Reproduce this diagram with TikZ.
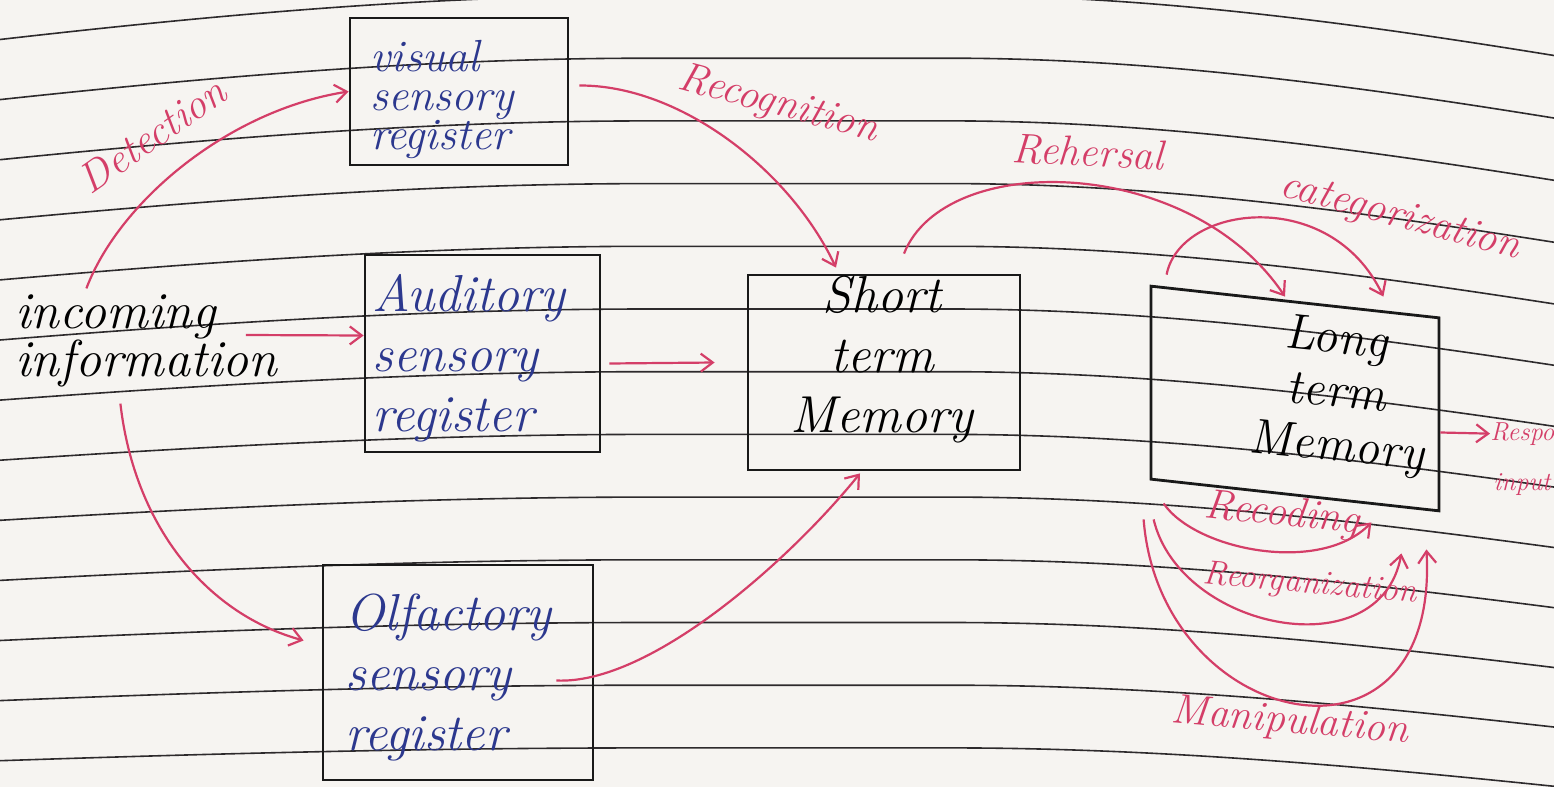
\documentclass[tikz,border=0pt]{standalone}
\usetikzlibrary{arrows.meta, calc}

\definecolor{paper}{RGB}{246,244,241}
\definecolor{inkpink}{RGB}{212,62,104}
\definecolor{inkblue}{RGB}{44,56,142}
\definecolor{ruleink}{RGB}{45,42,44}

\begin{document}
\begin{tikzpicture}[x=0.5pt, y=-0.5pt,
        membox/.style={rectangle, draw=black!90, line width=1.4pt, inner sep=0pt},
        hand/.style={font=\fontsize{26}{30}\selectfont\itshape, inner sep=0pt},
        bluehand/.style={hand, text=inkblue, align=left},
        lbl/.style={font=\fontsize{21}{24}\selectfont\itshape, text=inkpink, inner sep=1pt},
        arrow/.style={-{Straight Barb[length=6pt,width=9pt]}, draw=inkpink, line width=1.1pt},
        ruled/.style={draw=ruleink, line width=0.8pt}
    ]
        % Paper
        \useasboundingbox (0,0) rectangle (1554,787);
        \fill[paper] (0,0) rectangle (1554,787);
        \foreach \i in {0,...,12} {
            \pgfmathsetmacro\m{-4.5+62.7*\i}
            \pgfmathsetmacro\dl{44-2.6*\i}
            \pgfmathsetmacro\dr{60-0.15*\i*\i}
            \draw[ruled] (0,\m+\dl) .. controls (250,\m+0.35*\dl) and (450,\m) .. (650,\m)
                -- (950,\m) .. controls (1150,\m) and (1350,\m+0.45*\dr) .. (1554,\m+\dr);
        }

        % Input
        \node[hand, anchor=west, align=left, font=\fontsize{26}{24}\selectfont\itshape] (inc) at (15,341) {incoming\\information};

        % Sensory registers
        \node[membox, minimum width=109pt, minimum height=73.5pt] (vis) at (459,91.5) {};
        \node[bluehand, anchor=west, font=\fontsize{22.5}{19.5}\selectfont\itshape] (vistext) at (370,99) {visual\\sensory\\register};
        \node[membox, minimum width=117.5pt, minimum height=98.5pt] (aud) at (482.5,353.5) {};
        \node[bluehand, anchor=west] (audtext) at (372,358) {Auditory\\sensory\\register};
        \node[membox, minimum width=135pt, minimum height=107.5pt] (olf) at (458,672.5) {};
        \node[bluehand, anchor=west] (olftext) at (345,677) {Olfactory\\sensory\\register};

        % Memory stores
        \node[membox, minimum width=136pt, minimum height=97.5pt] (stm) at (884,372.5) {};
        \node[hand, align=center] (stmtext) at (882,359) {Short\\term\\Memory};
        \node[membox, minimum width=144pt, minimum height=96.5pt, yslant=-0.11] (ltm) at (1295,398.5) {};
        \node[hand, align=center, yslant=-0.1, font=\fontsize{25}{27}\selectfont\itshape] (ltmtext) at (1336,395) {Long\\term\\Memory};

        % Output
        \node[lbl, anchor=base west, font=\fontsize{13}{15}\selectfont\itshape, inner sep=0pt] (resp) at (1490,440) {Response};
        \node[lbl, anchor=base west, font=\fontsize{13}{15}\selectfont\itshape, inner sep=0pt] (inp) at (1493,490) {input};

        % Flows
        \draw[arrow] ([xshift=-30pt,yshift=3pt]inc.north) .. controls (120,200) and (230,110) .. (vis.west);
        \draw[arrow] ([xshift=-16pt,yshift=3pt]inc.east) -- ([yshift=9pt]aud.west);
        \draw[arrow] ([xshift=-13pt,yshift=-8pt]inc.south) .. controls (135,530) and (210,615) .. ([xshift=-9pt,yshift=16pt]olf.west);
        \draw[arrow] ([xshift=4pt,yshift=-5pt]aud.east) -- ([xshift=-16pt,yshift=5pt]stm.west);
        \draw[arrow] ([xshift=-19pt,yshift=-4pt]olf.east) .. controls (650,685) and (790,560) .. ([xshift=-12pt,yshift=-1pt]stm.south);
        \draw[arrow] ([xshift=5pt,yshift=3pt]vis.east) .. controls (680,85) and (790,170) .. ([xshift=-24pt,yshift=3pt]stm.north);
        \draw[arrow] ([xshift=10pt,yshift=10pt]stm.north) .. controls (945,150) and (1190,155) .. ([xshift=-5pt,yshift=2pt]ltm.north);
        \draw[arrow] ([xshift=8.5pt,yshift=5pt]ltm.north west) .. controls (1180,205) and (1330,185) .. ([xshift=-28.5pt,yshift=10pt]ltm.north east);
        \draw[arrow] ([xshift=7pt,yshift=-11.5pt]ltm.south west) .. controls (1195,550) and (1320,575) .. ([xshift=-34.5pt,yshift=-5pt]ltm.south east);
        \draw[arrow] ([xshift=2pt,yshift=-19.5pt]ltm.south west) .. controls (1180,630) and (1380,670) .. ([xshift=-19.5pt,yshift=-20.5pt]ltm.south east);
        \draw[arrow] ([xshift=-3pt,yshift=-19.5pt]ltm.south west) .. controls (1160,730) and (1440,790) .. ([xshift=-7pt,yshift=-18.5pt]ltm.south east);
        \draw[arrow] ([yshift=-9pt]ltm.east) -- (resp.west);

        % Flow labels
        \node[lbl, rotate=35] (detlbl) at (152,135) {Detection};
        \node[lbl, rotate=-15] (reclbl) at (778,105) {Recognition};
        \node[lbl, rotate=-3] (rehlbl) at (1088,152) {Rehersal};
        \node[lbl, rotate=-15] (catlbl) at (1400,218) {categorization};
        \node[lbl, rotate=-6] (rcdlbl) at (1282,515) {Recoding};
        \node[lbl, rotate=-5, font=\fontsize{17}{20}\selectfont\itshape] (reolbl) at (1310,585) {Reorganization};
        \node[lbl, rotate=-5] (manlbl) at (1290,722) {Manipulation};
    \end{tikzpicture}
\end{document}
